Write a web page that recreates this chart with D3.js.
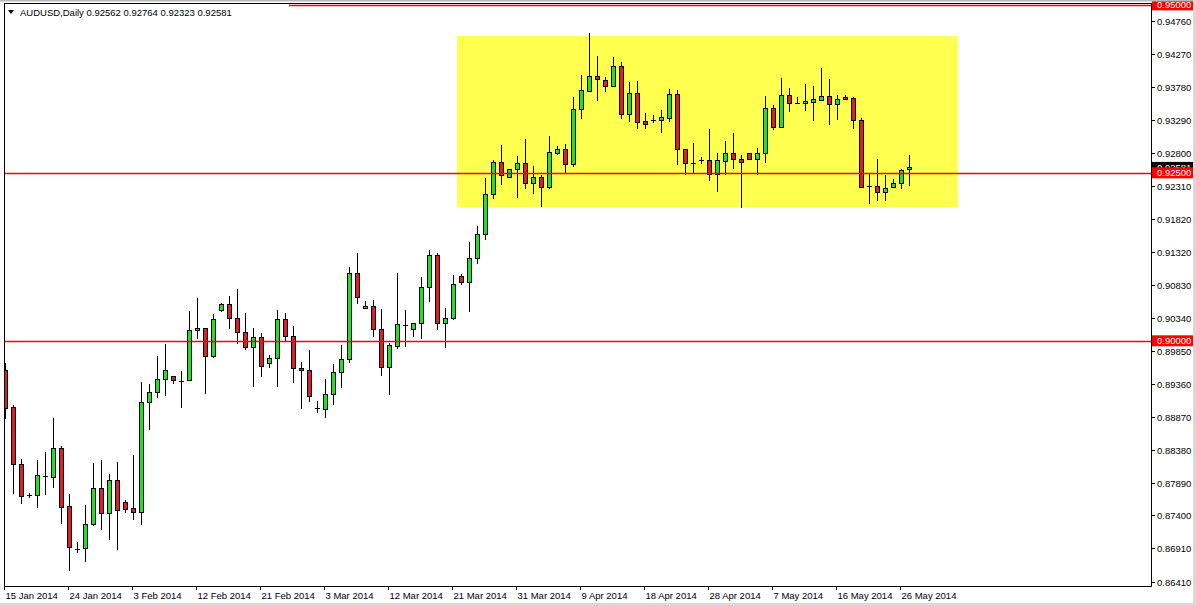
<!DOCTYPE html>
<html><head><meta charset="utf-8">
<script src="https://cdn.jsdelivr.net/npm/d3@7"></script>
<style>html,body{margin:0;padding:0;background:#fff;overflow:hidden}svg{display:block}text{font-family:"Liberation Sans",Arial,sans-serif}</style>
</head><body>
<svg id="c" width="1196" height="606"></svg>
<script>
const symbol = "AUDUSD,Daily";
const lastBar = ["0.92562","0.92764","0.92323","0.92581"];
// bar OHLC (daily, incl. Sunday bars), starting 15 Jan 2014
const open = [
0.89565,0.89015,0.88166,0.87705,0.87705,0.87988,0.87973,0.88404,0.87541,0.86901,
0.86916,0.87273,0.87809,0.87437,0.87928,0.87601,0.87511,0.87452,0.89089,0.89238,
0.89431,0.89476,0.89402,0.89416,0.90161,0.90190,0.89774,0.90458,0.90548,0.90339,
0.90131,0.89908,0.90056,0.89669,0.89744,0.90324,0.90071,0.89595,0.89565,0.89000,
0.88985,0.89208,0.89535,0.89729,0.91009,0.90488,0.90518,0.90175,0.89610,0.89922,
0.90235,0.90175,0.90265,0.90801,0.91277,0.90265,0.90339,0.90964,0.90875,0.91232,
0.91589,0.92185,0.92661,0.92438,0.92557,0.92646,0.92348,0.92438,0.92289,0.92795,
0.92854,0.92631,0.93450,0.93718,0.93941,0.93881,0.93792,0.94090,0.93375,0.93688,
0.93271,0.93286,0.93286,0.93316,0.93673,0.92854,0.92646,0.92691,0.92691,0.92482,
0.92676,0.92795,0.92706,0.92795,0.92706,0.92795,0.93465,0.93182,0.93658,0.93539,
0.93539,0.93554,0.93584,0.93643,0.93524,0.93628,0.93613,0.93286,0.92304,0.92304,
0.92214,0.92289,0.92348,0.92562];
const high = [
0.89669,0.89044,0.88241,0.87735,0.88226,0.88345,0.88851,0.88434,0.87720,0.87005,
0.87556,0.88181,0.88226,0.88017,0.88196,0.87630,0.88300,0.89387,0.89357,0.89774,
0.89952,0.89476,0.89550,0.90443,0.90637,0.90190,0.90399,0.90562,0.90667,0.90771,
0.90414,0.90190,0.90116,0.89788,0.90458,0.90414,0.90220,0.89684,0.89863,0.89104,
0.89431,0.89655,0.89937,0.91098,0.91307,0.90592,0.90607,0.90473,0.89967,0.91009,
0.90458,0.90265,0.90949,0.91351,0.91307,0.90488,0.90979,0.90994,0.91470,0.91708,
0.92423,0.92691,0.92914,0.92557,0.92750,0.93003,0.92601,0.92467,0.93048,0.92899,
0.92929,0.93628,0.93956,0.94581,0.94238,0.93926,0.94224,0.94149,0.93852,0.93866,
0.93390,0.93360,0.93435,0.93747,0.93732,0.92854,0.92944,0.92735,0.93152,0.92795,
0.92973,0.93093,0.92765,0.92795,0.92869,0.93643,0.93509,0.93911,0.93762,0.93628,
0.93822,0.93792,0.94060,0.93896,0.93658,0.93658,0.93628,0.93316,0.92497,0.92706,
0.92467,0.92408,0.92557,0.92764];
const low = [
0.88851,0.87735,0.87586,0.87675,0.87526,0.87720,0.87824,0.87288,0.86589,0.86856,
0.86723,0.87258,0.87199,0.87050,0.86901,0.87452,0.87348,0.87273,0.88687,0.89163,
0.89193,0.89372,0.89015,0.89416,0.90041,0.89223,0.89759,0.90443,0.90190,0.89967,
0.89878,0.89327,0.89476,0.89610,0.89327,0.89997,0.89387,0.89000,0.89104,0.88940,
0.88866,0.89059,0.89312,0.89684,0.90562,0.90488,0.90071,0.89491,0.89208,0.89893,
0.89922,0.90071,0.90041,0.90592,0.90175,0.89908,0.90324,0.90845,0.90443,0.91158,
0.91515,0.92125,0.92334,0.92438,0.92140,0.92274,0.92200,0.92006,0.92274,0.92780,
0.92497,0.92601,0.93316,0.93718,0.93584,0.93718,0.93792,0.93316,0.93271,0.93167,
0.93167,0.93256,0.93107,0.93271,0.92631,0.92482,0.92497,0.92646,0.92393,0.92229,
0.92482,0.92572,0.91991,0.92706,0.92482,0.92661,0.93152,0.93182,0.93420,0.93539,
0.93435,0.93286,0.93584,0.93226,0.93301,0.93599,0.93167,0.92289,0.92051,0.92095,
0.92095,0.92289,0.92274,0.92323];
const close = [
0.89000,0.88166,0.87690,0.87705,0.88003,0.87988,0.88404,0.87526,0.86931,0.86901,
0.87273,0.87809,0.87437,0.87928,0.87482,0.87497,0.87452,0.89089,0.89238,0.89431,
0.89565,0.89416,0.89402,0.90161,0.90190,0.89774,0.90324,0.90548,0.90339,0.90131,
0.89908,0.90056,0.89625,0.89744,0.90324,0.90071,0.89595,0.89565,0.89178,0.89000,
0.89208,0.89535,0.89729,0.91009,0.90652,0.90518,0.90175,0.89610,0.89937,0.90250,
0.90235,0.90265,0.90801,0.91277,0.90265,0.90339,0.90845,0.90875,0.91232,0.91589,
0.92185,0.92661,0.92467,0.92557,0.92646,0.92348,0.92438,0.92289,0.92810,0.92854,
0.92631,0.93450,0.93732,0.93941,0.93896,0.93792,0.94090,0.93375,0.93688,0.93256,
0.93226,0.93286,0.93331,0.93673,0.92854,0.92646,0.92646,0.92691,0.92482,0.92691,
0.92795,0.92706,0.92661,0.92706,0.92795,0.93465,0.93182,0.93658,0.93539,0.93539,
0.93569,0.93599,0.93643,0.93524,0.93599,0.93599,0.93286,0.92289,0.92304,0.92214,
0.92274,0.92348,0.92542,0.92581];
const tickLabels = ["15 Jan 2014","24 Jan 2014","3 Feb 2014","12 Feb 2014","21 Feb 2014","3 Mar 2014","12 Mar 2014","21 Mar 2014","31 Mar 2014","9 Apr 2014","18 Apr 2014","28 Apr 2014","7 May 2014","16 May 2014","26 May 2014"];
const tickBarStep = 8;
const priceTicks = [0.94760,0.94270,0.93780,0.93290,0.92800,0.92310,0.91820,0.91320,0.90830,0.90340,0.89850,0.89360,0.88870,0.88380,0.87890,0.87400,0.86910,0.86410];
const hLines = [0.95000,0.92500,0.90000];
const zone = {from:56.5, to:119.1, top:0.94536, bottom:0.91991};

const svg = d3.select("#c");
const L=4, R=1151, T=3, B=586;
const n = open.length;
const x = d3.scaleLinear().domain([0, n-1]).range([5, 5+8*(n-1)]);
const y = d3.scaleLinear().domain([0.86410, 0.94760]).range([582, 21]);
const RED = "#ff0000";

svg.append("defs").append("clipPath").attr("id","pc").append("rect")
  .attr("x",L+1).attr("y",T+1).attr("width",R-L-1).attr("height",B-T-1);
const plot = svg.append("g").attr("clip-path","url(#pc)");

// yellow zone
plot.append("rect")
  .attr("x", x(zone.from)).attr("width", x(zone.to)-x(zone.from))
  .attr("y", y(zone.top)).attr("height", y(zone.bottom)-y(zone.top))
  .attr("fill","#ffff50");

const data = d3.range(n).map(i=>({i,o:open[i],h:high[i],l:low[i],c:close[i]}));
const g = plot.append("g");
data.forEach(d=>{
  const cx = Math.round(x(d.i));
  g.append("line").attr("x1",cx+0.5).attr("x2",cx+0.5)
    .attr("y1",Math.round(y(d.h))).attr("y2",Math.round(y(d.l))+1)
    .attr("stroke","#000").attr("stroke-width",1);
  const yt = Math.round(y(Math.max(d.o,d.c))), yb = Math.round(y(Math.min(d.o,d.c)));
  if (yb - yt < 1) {
    g.append("line").attr("x1",cx-2).attr("x2",cx+3).attr("y1",yt+0.5).attr("y2",yt+0.5)
      .attr("stroke","#000").attr("stroke-width",1);
  } else {
    g.append("rect").attr("x",cx-1.5).attr("width",4).attr("y",yt+0.5).attr("height",yb-yt)
      .attr("fill", d.c>d.o ? "#22e022" : "#dc1f26").attr("stroke","#000").attr("stroke-width",1);
  }
});

// horizontal lines
hLines.forEach(v=>{
  const yy = Math.round(y(v));
  plot.append("rect").attr("x",L).attr("width",R-L).attr("y",yy-0.25).attr("height",1.5)
    .attr("fill",RED);
});

// header
plot.append("rect").attr("x",L+1).attr("y",T+1).attr("width",284).attr("height",4.5).attr("fill","#fff");
svg.append("path").attr("d","M8,10 L14,10 L11,14 Z").attr("fill","#000");
svg.append("text").attr("x",20).attr("y",16).attr("font-size",9.5).attr("fill","#000")
  .text(symbol+"  "+lastBar.join(" "));

// frame
svg.append("rect").attr("x",L+0.5).attr("y",T+0.5).attr("width",R-L).attr("height",B-T)
  .attr("fill","none").attr("stroke","#000").attr("stroke-width",1);

// right axis
const ax = svg.append("g");
priceTicks.forEach(v=>{
  const yy = Math.round(y(v))+0.5;
  ax.append("line").attr("x1",R).attr("x2",R+4).attr("y1",yy).attr("y2",yy).attr("stroke","#000");
  ax.append("text").attr("x",R+6).attr("y",yy+3.5).attr("font-size",9.5).attr("fill","#000").text(v.toFixed(5));
});
// current price label and line labels
const cur = close[n-1];
function tag(v, bg){
  const yy = y(v);
  ax.append("rect").attr("x",R+1).attr("y",yy-5.5).attr("width",42).attr("height",11).attr("fill",bg);
  ax.append("text").attr("x",R+6).attr("y",yy+3.5).attr("font-size",9.5).attr("fill","#fff").text(v.toFixed(5));
}
tag(cur,"#000");
hLines.forEach(v=>tag(v,RED));

// bottom axis
const bx = svg.append("g");
tickLabels.forEach((t,k)=>{
  const xx = Math.round(x(k*tickBarStep))-0.5;
  bx.append("line").attr("x1",xx).attr("x2",xx).attr("y1",B).attr("y2",B+4).attr("stroke","#000");
  bx.append("text").attr("x",xx+1).attr("y",599).attr("font-size",9.5).attr("fill","#000").text(t);
});

// window chrome
svg.append("rect").attr("x",0).attr("y",0).attr("width",1196).attr("height",1.5).attr("fill","#b8b8b8");
svg.append("rect").attr("x",1193).attr("y",0).attr("width",3).attr("height",606).attr("fill","#d8d8d8");
svg.append("rect").attr("x",0).attr("y",603).attr("width",1196).attr("height",3).attr("fill","#d8d8d8");
</script>
</body></html>
